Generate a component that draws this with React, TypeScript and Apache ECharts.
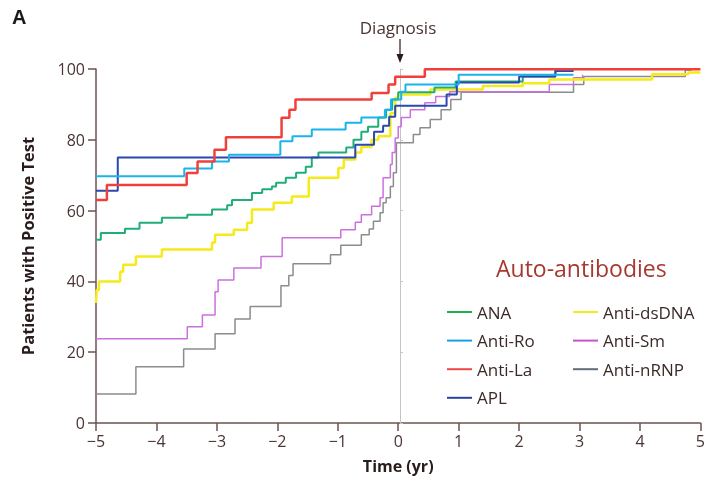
import React, { useEffect, useRef } from "react";
import * as echarts from "echarts";

// [time (yr), % patients with positive test]
const ana: number[][] = [
  [-5, 51.8], [-4.92, 53.7], [-4.52, 54.9], [-4.28, 56.6], [-3.91, 58], [-3.49, 58.8],
  [-3.08, 60.3], [-2.83, 61.5], [-2.75, 63], [-2.42, 65], [-2.25, 66], [-2.09, 66.8],
  [-2.02, 67.9], [-1.86, 69.3], [-1.69, 70.7], [-1.53, 72.4], [-1.43, 75], [-1.32, 76.4],
  [-0.86, 77.8], [-0.74, 80], [-0.61, 82.3], [-0.5, 83.7], [-0.33, 86.3], [-0.2, 88.5],
  [-0.1, 91.4], [0, 93.4], [0.6, 94.8], [0.95, 96.5], [2.06, 97.9], [2.6, 99.6], [2.9, 99.6],
];
const antiRo: number[][] = [
  [-5, 69.7], [-3.54, 71.9], [-3.08, 73.9], [-2.8, 75.8], [-1.95, 79.6], [-1.75, 81],
  [-1.43, 82.9], [-0.87, 84.8], [-0.61, 86.3], [-0.22, 88.5], [-0.12, 91.4], [0.05, 93.6],
  [0.12, 95.6], [1.0, 98.4], [2.9, 98.4],
];
const antiLa: number[][] = [
  [-5, 63], [-4.82, 67.2], [-3.5, 70.6], [-3.32, 73.9], [-3.04, 77.2], [-2.85, 80.7],
  [-1.93, 86.2], [-1.8, 88.5], [-1.7, 91.4], [-0.44, 93.2], [-0.16, 95.6], [-0.05, 97.8],
  [0.44, 99.9], [5, 99.9],
];
const apl: number[][] = [
  [-5, 65.6], [-4.64, 75], [-0.71, 78.6], [-0.4, 82.3], [-0.25, 84], [-0.15, 86.5],
  [-0.05, 89.6], [0.8, 92.8], [0.97, 96.2], [2.0, 97.9], [2.6, 99.4], [2.9, 99.4],
];
const antiDsDNA: number[][] = [
  [-5, 33.9], [-4.99, 37.6], [-4.95, 40], [-4.6, 42.7], [-4.55, 44.7], [-4.34, 47],
  [-3.91, 49], [-3.08, 51], [-3.03, 53.2], [-2.72, 54.6], [-2.5, 56.6], [-2.42, 60.3],
  [-2.06, 62.2], [-1.76, 64], [-1.48, 69.3], [-0.99, 72], [-0.9, 74.4], [-0.71, 76.4],
  [-0.61, 78], [-0.44, 80], [-0.33, 81], [-0.13, 87.5], [-0.05, 91.9], [0, 92.8],
  [0.53, 94.2], [1.4, 95.2], [2.06, 96], [2.5, 97], [4.2, 98.5], [4.8, 99], [5, 99],
];
const antiSm: number[][] = [
  [-5, 23.8], [-3.49, 27.2], [-3.24, 30.5], [-3.03, 37.1], [-2.98, 40.4], [-2.72, 43.8],
  [-2.27, 47], [-1.92, 52.3], [-0.95, 54.6], [-0.71, 56.7], [-0.61, 58.8], [-0.44, 61.2],
  [-0.3, 63.6], [-0.25, 69.3], [-0.13, 73], [-0.1, 76.4], [-0.05, 80.5], [0, 83.7],
  [0.05, 86.3], [0.2, 88.5], [0.44, 90.5], [0.62, 92.2], [0.85, 93.6], [2.5, 95.6],
  [2.9, 97.5], [3.05, 98.4], [3.05, 98.4],
];
const antiNRNP: number[][] = [
  [-5, 8.2], [-4.34, 15.9], [-3.55, 20.9], [-3.03, 25.2], [-2.7, 29.4], [-2.45, 32.9],
  [-1.94, 38.8], [-1.81, 41.7], [-1.74, 45], [-1.12, 47.5], [-0.95, 50.2], [-0.61, 53.2],
  [-0.48, 54.8], [-0.41, 57], [-0.3, 59.4], [-0.25, 62.2], [-0.2, 63.6], [-0.13, 66.8],
  [-0.08, 70.7], [-0.03, 79.2], [0.25, 81.5], [0.36, 83.4], [0.53, 85.7], [0.71, 88.5],
  [0.87, 91.4], [1.04, 93.4], [2.9, 95.6], [3.07, 97.9], [4.75, 99.7], [4.85, 99.7],
];

const legendLeft = ["ANA", "Anti-Ro", "Anti-La", "APL"];
const legendRight = ["Anti-dsDNA", "Anti-Sm", "Anti-nRNP"];

const FONT = "'Open Sans', sans-serif";
const AXIS = "#6e5252";
const TXT = "#3c2a2a";

export default function App() {
  const ref = useRef<HTMLDivElement>(null);
  useEffect(() => {
    if (!ref.current) return;
    const chart = echarts.init(ref.current, undefined, { renderer: "svg" });
    const mk = (name: string, data: number[][], color: string, width: number, legendColor: string) => ({
      name,
      type: "line",
      step: "end",
      data,
      showSymbol: false,
      symbol: "none",
      color: legendColor,
      lineStyle: { color, width },
      itemStyle: { color: legendColor },
      z: 3,
    });
    const fmt = (v: number) => (v < 0 ? "\u2212" + Math.abs(v) : String(v));
    const legendBase = {
      orient: "vertical",
      top: 297,
      itemWidth: 25,
      itemHeight: 2,
      itemGap: 8.6,
      icon: "rect",
      selectedMode: false,
      textStyle: { fontFamily: FONT, fontSize: 17, color: TXT, lineHeight: 20 },
    };
    chart.setOption({
      animation: false,
      grid: { left: 96, right: 4, top: 69, bottom: 65 },
      xAxis: {
        type: "value",
        min: -5,
        max: 5,
        interval: 1,
        name: "Time (yr)",
        nameLocation: "middle",
        nameGap: 35,
        nameTextStyle: { fontFamily: FONT, fontSize: 16, fontWeight: "bold", color: "#2a1c1c" },
        axisLine: { onZero: false, lineStyle: { color: AXIS, width: 1.5 } },
        axisTick: { length: 8, lineStyle: { color: AXIS, width: 1.5 } },
        axisLabel: { fontFamily: FONT, fontSize: 16, color: "#4a3434", margin: 10, formatter: fmt },
        splitLine: { show: false },
      },
      yAxis: [
        {
          type: "value",
          min: 0,
          max: 100,
          interval: 20,
          name: "Patients with Positive Test",
          nameLocation: "middle",
          nameGap: 60,
          nameTextStyle: { fontFamily: FONT, fontSize: 16.5, fontWeight: "bold", color: "#2a1c1c" },
          axisLine: { show: true, onZero: false, lineStyle: { color: AXIS, width: 1.5 } },
          axisTick: { show: true, length: 8, lineStyle: { color: AXIS, width: 1.5 } },
          axisLabel: { fontFamily: FONT, fontSize: 16, color: "#4a3434", margin: 11 },
          splitLine: { show: false },
        },
        {
          type: "value",
          min: 0,
          max: 100,
          interval: 20,
          position: "left",
          offset: -304,
          z: 1,
          axisLine: { show: true, onZero: false, lineStyle: { color: "#c4c4c4", width: 1 } },
          axisTick: { show: true, inside: true, length: 3, lineStyle: { color: "#c4c4c4" } },
          axisLabel: { show: false },
          splitLine: { show: false },
        },
      ],
      legend: [
        { ...legendBase, left: 442, data: legendLeft },
        { ...legendBase, left: 568, data: legendRight },
      ],
      graphic: [
        { type: "text", left: 12, top: 7, style: { text: "A", font: "bold 20px 'Liberation Sans', Arial, sans-serif", fill: "#1a1a1a" } },
        { type: "text", x: 398, y: 27, style: { text: "Diagnosis", font: `17px ${FONT}`, fill: "#4a3434", align: "center", verticalAlign: "middle" } },
        { type: "line", shape: { x1: 400, y1: 39, x2: 400, y2: 56 }, style: { stroke: "#2a1a1a", lineWidth: 1.2 } },
        { type: "polygon", shape: { points: [[396.5, 54], [403.5, 54], [400, 63]] }, style: { fill: "#2a1a1a" } },
        { type: "text", x: 496, y: 268, style: { text: "Auto-antibodies", font: `23px ${FONT}`, fill: "#a8382f", verticalAlign: "middle" } },
      ],
      series: [
        mk("Anti-nRNP", antiNRNP, "#8c8c8c", 1.5, "#5f6d7c"),
        mk("Anti-Sm", antiSm, "#cc70e0", 1.5, "#c455c8"),
        mk("Anti-dsDNA", antiDsDNA, "#f5ea1a", 2.5, "#f3ee1a"),
        mk("ANA", ana, "#1fae78", 2, "#1db04b"),
        mk("APL", apl, "#2a48b0", 2, "#2840a0"),
        mk("Anti-Ro", antiRo, "#1ab4ec", 2, "#1aa0e8"),
        mk("Anti-La", antiLa, "#f0403c", 2.5, "#f04848"),
      ],
    });
    return () => chart.dispose();
  }, []);
  return <div ref={ref} style={{ position: "fixed", left: 0, top: 0, width: 708, height: 488 }} />;
}
